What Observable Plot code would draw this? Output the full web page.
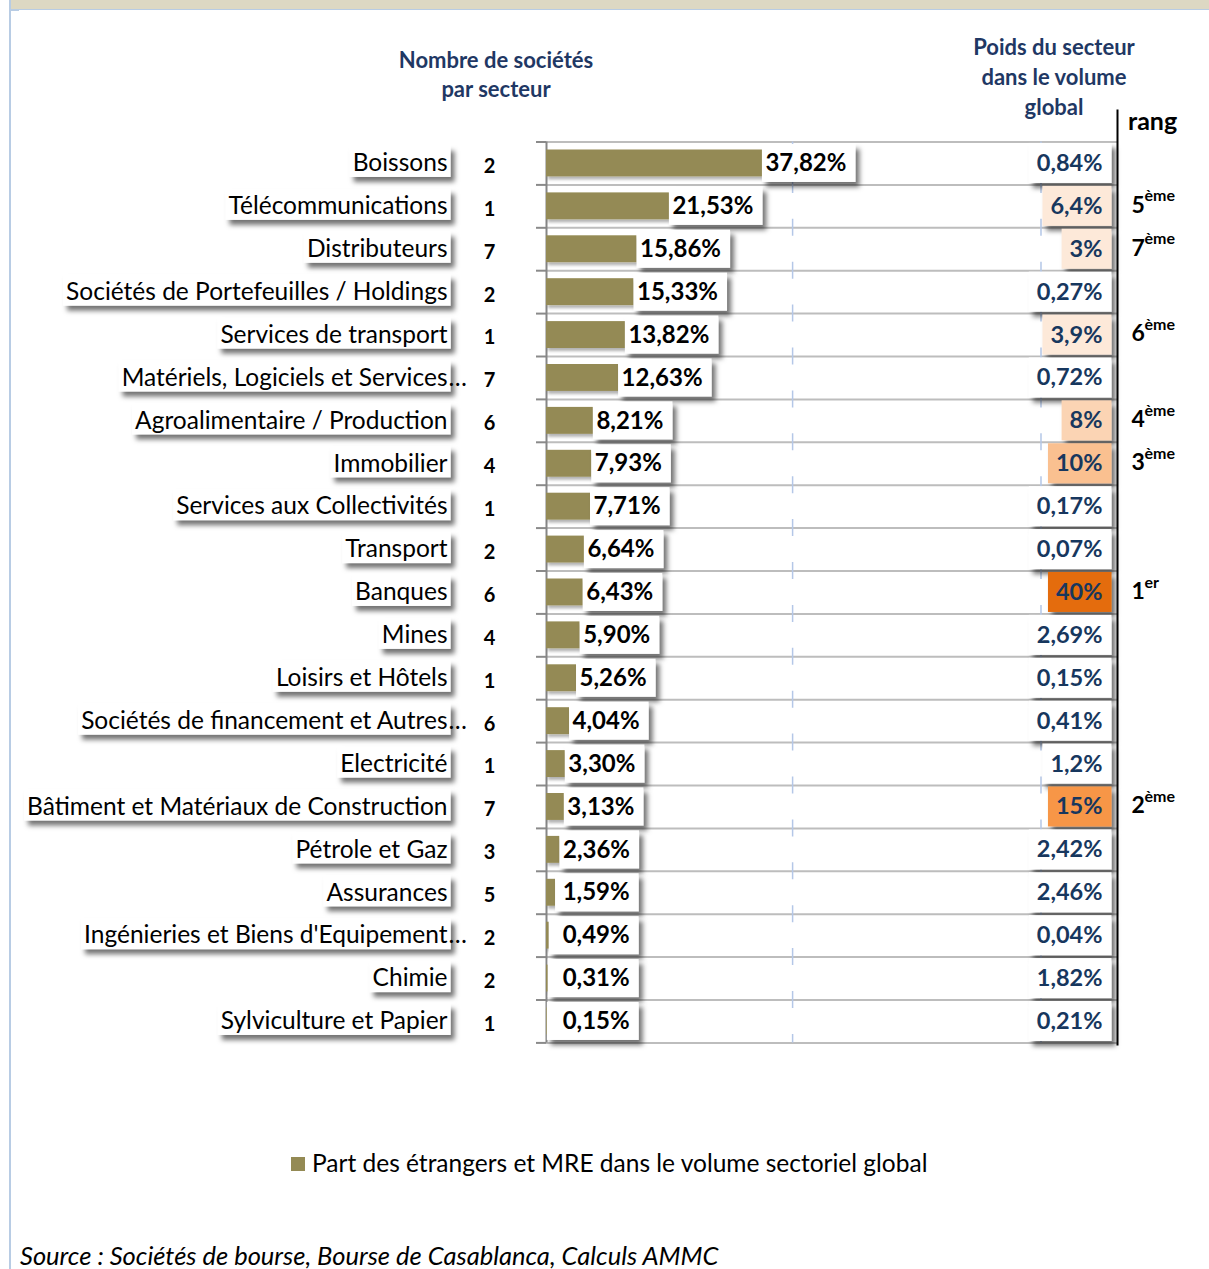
<!DOCTYPE html>
<html><head><meta charset="utf-8">
<script src="https://cdn.jsdelivr.net/npm/d3@7"></script>
<script src="https://cdn.jsdelivr.net/npm/@observablehq/plot@0.6"></script>
<style>
html,body{margin:0;padding:0;background:#fff;overflow:hidden;}
#page{position:relative;width:1209px;height:1269px;font-family:Lato,"Open Sans",sans-serif;}
.topband{position:absolute;left:11px;top:0;width:1198px;height:9px;background:#ddd8c3;border-bottom:1px solid #b8cce4;}
.leftline{position:absolute;left:9px;top:0;width:2px;height:1269px;background:#b8cce4;}
.stub{position:absolute;left:11px;top:9px;width:8px;height:2px;background:#b8cce4;}
.hdr{position:absolute;color:#1f3864;font-weight:bold;font-size:22px;text-align:center;white-space:nowrap;}
#chart{position:absolute;left:0;top:0;}
</style></head>
<body>
<div id="page">
  <div class="topband"></div><div class="leftline"></div><div class="stub"></div>
  <div id="chart"></div>
  <div class="hdr" id="h1" style="left:346px;top:45px;width:300px;line-height:29px;"></div>
  <div class="hdr" id="h2" style="left:934px;top:32px;width:240px;line-height:30px;"></div>
  <div id="rang" style="position:absolute;left:1128px;top:105px;line-height:30px;font-weight:bold;font-size:25px;color:#000;"></div>
  <div style="position:absolute;left:291px;top:1157px;width:14px;height:14px;background:#948a54;"></div>
  <div id="legend" style="position:absolute;left:312px;top:1148px;line-height:30px;font-size:24.5px;color:#000;white-space:nowrap;"></div>
  <div id="source" style="position:absolute;left:20px;top:1240px;line-height:30px;font-size:25.5px;font-style:italic;color:#000;white-space:nowrap;"></div>
</div>
<script>
// ---------------- DATA ----------------
const categories = ["Boissons","Télécommunications","Distributeurs","Sociétés de Portefeuilles / Holdings","Services de transport","Matériels, Logiciels et Services…","Agroalimentaire / Production","Immobilier","Services aux Collectivités","Transport","Banques","Mines","Loisirs et Hôtels","Sociétés de financement et Autres…","Electricité","Bâtiment et Matériaux de Construction","Pétrole et Gaz","Assurances","Ingénieries et Biens d'Equipement…","Chimie","Sylviculture et Papier"];
const nbSocietes = [2,1,7,2,1,7,6,4,1,2,6,4,1,6,1,7,3,5,2,2,1];
const partEtrangers = [37.82,21.53,15.86,15.33,13.82,12.63,8.21,7.93,7.71,6.64,6.43,5.90,5.26,4.04,3.30,3.13,2.36,1.59,0.49,0.31,0.15];
const poidsSecteur = [0.84,6.4,3,0.27,3.9,0.72,8,10,0.17,0.07,40,2.69,0.15,0.41,1.2,15,2.42,2.46,0.04,1.82,0.21];
const rang = [null,5,7,null,6,null,4,3,null,null,1,null,null,null,null,2,null,null,null,null,null];
const gridTicks = [43.1, 86.6];
const headerNombre = ["Nombre de sociétés","par secteur"];
const headerPoids = ["Poids du secteur","dans le volume","global"];
const headerRang = "rang";
const legendLabel = "Part des étrangers et MRE dans le volume sectoriel global";
const sourceText = "Source : Sociétés de bourse, Bourse de Casablanca, Calculs AMMC";

// ---------------- TABLE ----------------
const rows = categories.map((c,i)=>({
  cat: c,
  name: c.endsWith("…") ? c.slice(0,-1) : c,
  trunc: c.endsWith("…"),
  n: nbSocietes[i],
  part: partEtrangers[i],
  poids: poidsSecteur[i],
  rang: rang[i]
}));
const fr2 = v => v.toFixed(2).replace(".", ",") + "%";
const frP = v => v.toLocaleString("fr-FR",{maximumFractionDigits:2}) + "%";
const rankFill = r => r==null ? "#ffffff" : ({1:"#e46c0a",2:"#f79646",3:"#fac090",4:"#fbd4b4"}[r] || "#fde9d9");

document.getElementById("h1").innerHTML = headerNombre.join("<br>");
document.getElementById("h2").innerHTML = headerPoids.join("<br>");
document.getElementById("rang").textContent = headerRang;
document.getElementById("legend").textContent = legendLabel;
document.getElementById("source").textContent = sourceText;

const H = 1100, MT = 141.5, MB = 57.6;
const step = (H - MT - MB) / categories.length;
const FONT = "Lato, 'Open Sans', sans-serif";

const plot = Plot.plot({
  width: 1209, height: H,
  marginLeft: 546, marginRight: 92, marginTop: MT, marginBottom: MB,
  x: {domain: [0, 100], axis: null},
  y: {domain: categories, axis: null, padding: 0, round: false},
  style: {fontFamily: FONT, background: "transparent", overflow: "visible"},
  marks: [
    Plot.ruleY(categories, {y: d => d, dy: -step/2, stroke: "#bdbdbd", strokeWidth: 2}),
    Plot.ruleY(categories.slice(-1), {y: d => d, dy: step/2, stroke: "#bdbdbd", strokeWidth: 2}),
    Plot.ruleY(categories, {y: d => d, dy: -step/2, x1: 0, x2: 0, insetLeft: -10, stroke: "#8a8a8a", strokeWidth: 2}),
    Plot.ruleY(categories.slice(-1), {y: d => d, dy: step/2, x1: 0, x2: 0, insetLeft: -10, stroke: "#8a8a8a", strokeWidth: 2}),
    Plot.ruleX(gridTicks, {stroke: "#b4c7e7", strokeWidth: 1.5, strokeDasharray: `17,${step-17}`, strokeDashoffset: 8.5}),
    Plot.ruleX([0], {stroke: "#868686", strokeWidth: 2}),
    Plot.barX(rows, {x: "part", y: "cat", fill: "#948a54", insetTop: 8, insetBottom: 8}),
    // 0: bar value labels
    Plot.text(rows, {x: d => Math.max(d.part, 2.3), y: "cat", text: d => fr2(d.part), dx: 3, textAnchor: "start",
      fontWeight: "bold", fontSize: 24, fill: "#000"}),
    // 1: category labels
    Plot.text(rows, {y: "cat", text: "name", frameAnchor: "left", dx: -99, textAnchor: "end",
      fontSize: 24.5, fill: "#000"}),
    // 2: ellipsis
    Plot.text(rows.filter(d => d.trunc), {y: "cat", text: () => "…", frameAnchor: "left", dx: -98, textAnchor: "start",
      fontSize: 24.5, fill: "#000"}),
    // 3: counts
    Plot.text(rows, {y: "cat", text: d => String(d.n), frameAnchor: "left", dx: -57, dy: 3, textAnchor: "middle",
      fontWeight: "bold", fontSize: 20, fill: "#000"}),
    // 4: poids
    Plot.text(rows, {y: "cat", text: d => frP(d.poids), frameAnchor: "right", dx: -15, textAnchor: "end",
      fontWeight: "bold", fontSize: 23.5, fill: "#17375e"}),
    // 5,6: ranks
    Plot.text(rows.filter(d => d.rang != null), {y: "cat", text: d => String(d.rang), frameAnchor: "right", dx: 14, dy: -1, textAnchor: "start",
      fontWeight: "bold", fontSize: 23, fill: "#000"}),
    Plot.text(rows.filter(d => d.rang != null), {y: "cat", text: d => d.rang === 1 ? "er" : "ème", frameAnchor: "right", dx: 27, dy: -10, textAnchor: "start",
      fontWeight: "bold", fontSize: 16, fill: "#000"}),
    Plot.ruleX([100], {stroke: "#000", strokeWidth: 2, insetTop: -32, insetBottom: -3})
  ]
});
document.getElementById("chart").appendChild(plot);

// ---------- label boxes with drop shadows ----------
const ns = "http://www.w3.org/2000/svg";
const svg = plot.tagName.toLowerCase() === "svg" ? plot : plot.querySelector("svg");
const defs = document.createElementNS(ns, "defs");
defs.innerHTML = `
  <filter id="shBox" x="-20%" y="-40%" width="150%" height="190%">
    <feDropShadow dx="4" dy="5" stdDeviation="2.6" flood-color="#000" flood-opacity="0.55"/>
  </filter>
  <filter id="shBar" x="-5%" y="-30%" width="115%" height="170%">
    <feDropShadow dx="2" dy="3" stdDeviation="1.5" flood-color="#000" flood-opacity="0.3"/>
  </filter>`;
svg.insertBefore(defs, svg.firstChild);
const barsG = svg.querySelector('g[aria-label="bar"]');
if (barsG) barsG.setAttribute("filter", "url(#shBar)");
const textGroups = svg.querySelectorAll('g[aria-label="text"]');

const xs = plot.scale("x"), ys = plot.scale("y");
const rowCenter = c => ys.apply(c) + ys.bandwidth / 2;
const sb = svg.getBoundingClientRect();

function addBoxes(g, data, spec) {
  if (!g) return;
  const layer = document.createElementNS(ns, "g");
  g.parentNode.insertBefore(layer, g);
  g.querySelectorAll("text").forEach((t, i) => {
    const d = data[i];
    const r = t.getBoundingClientRect();
    const b = spec(d, r.left - sb.left, r.right - sb.left);
    const rect = document.createElementNS(ns, "rect");
    const cy = rowCenter(d.cat) + (b.dy || 0);
    rect.setAttribute("x", b.x1);
    rect.setAttribute("width", Math.max(0, b.x2 - b.x1));
    rect.setAttribute("y", cy - b.h);
    rect.setAttribute("height", 2 * b.h);
    rect.setAttribute("fill", b.fill);
    rect.setAttribute("filter", "url(#shBox)");
    layer.appendChild(rect);
  });
}
addBoxes(textGroups[1], rows, (d, l, r) => ({x1: l - 3, x2: r + 3, h: 15.5, dy: -1.5, fill: "#fff"}));
addBoxes(textGroups[0], rows, (d, l, r) => ({x1: Math.min(xs.apply(d.part), l - 3), x2: r + 9, h: 19, fill: "#fff"}));
addBoxes(textGroups[4], rows, (d, l, r) => ({x1: l - 8, x2: r + 9, h: 20, fill: rankFill(d.rang)}));
</script>
</body></html>
